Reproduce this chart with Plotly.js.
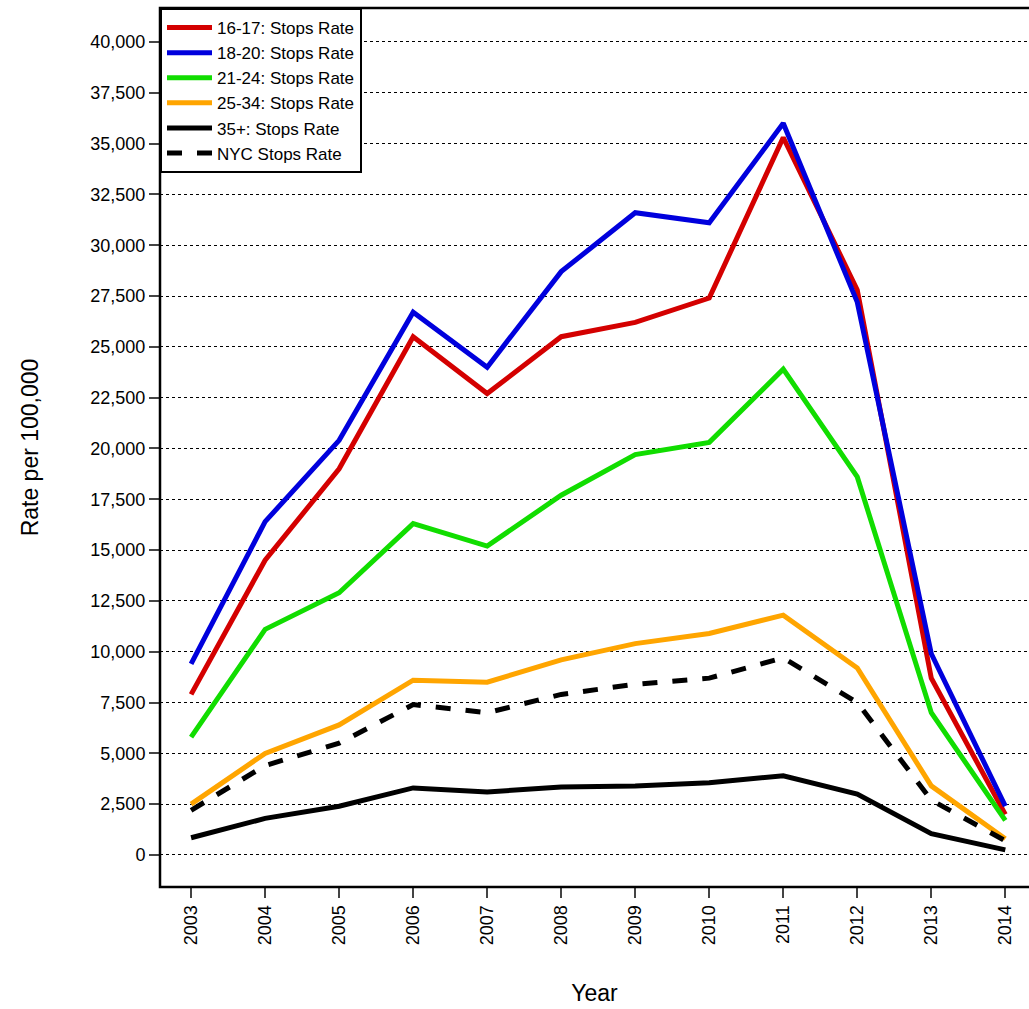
<!DOCTYPE html>
<html>
<head>
<script src="https://cdn.plot.ly/plotly-3.0.1.min.js"></script>
<style>body{margin:0;background:#fff}</style>
</head>
<body>
<div id="chart" style="width:1029px;height:1009px"></div>
<script>
var years = [2003, 2004, 2005, 2006, 2007, 2008, 2009, 2010, 2011, 2012, 2013, 2014];
var rate1617 = [7900, 14500, 19000, 25500, 22700, 25500, 26200, 27400, 35300, 27800, 8700, 2000];
var rate1820 = [9400, 16400, 20400, 26700, 24000, 28700, 31600, 31100, 36000, 27200, 9900, 2400];
var rate2124 = [5800, 11100, 12900, 16300, 15200, 17700, 19700, 20300, 23900, 18600, 7000, 1700];
var rate2534 = [2500, 5000, 6400, 8600, 8500, 9600, 10400, 10900, 11800, 9200, 3400, 800];
var rate35 = [850, 1800, 2400, 3300, 3100, 3350, 3400, 3550, 3900, 3000, 1050, 250];
var rateNYC = [2200, 4400, 5500, 7400, 7000, 7900, 8400, 8700, 9700, 7500, 2700, 700];
var yTicks = [0, 2500, 5000, 7500, 10000, 12500, 15000, 17500, 20000, 22500, 25000, 27500, 30000, 32500, 35000, 37500, 40000];

function line(name, y, color, dash) {
    return { type: 'scatter', mode: 'lines', name: name, x: years, y: y,
        line: { color: color, width: 5, dash: dash || 'solid' } };
}

var data = [
    line('16-17: Stops Rate', rate1617, '#d40000'),
    line('18-20: Stops Rate', rate1820, '#0000dd'),
    line('21-24: Stops Rate', rate2124, '#11dd00'),
    line('25-34: Stops Rate', rate2534, '#ffa500'),
    line('35+: Stops Rate', rate35, '#000000'),
    line('NYC Stops Rate', rateNYC, '#000000', 'dash')
];

var layout = {
    width: 1029, height: 1009,
    margin: { l: 160, r: 0, t: 8, b: 122 },
    font: { family: 'Liberation Sans, Arial, sans-serif', size: 18, color: '#000' },
    showlegend: true,
    legend: { x: 0, y: 1, xanchor: 'left', yanchor: 'top', bordercolor: '#000', borderwidth: 2,
        bgcolor: '#fff', font: { size: 17 }, tracegroupgap: 0, itemwidth: 45 },
    xaxis: {
        range: [2002.58, 2014.32], tickvals: years, ticktext: years.map(String), tickangle: -90,
        ticks: 'outside', ticklen: 10, tickwidth: 1.5, showgrid: false, zeroline: false,
        showline: false, title: { text: 'Year', font: { size: 23 }, standoff: 40 }
    },
    yaxis: {
        range: [-1575, 41670], tickvals: yTicks, ticktext: yTicks.map(function (v) { return v.toLocaleString('en-US'); }),
        ticks: 'outside', ticklen: 10, tickwidth: 1.5, showgrid: true, gridcolor: '#000', gridwidth: 1,
        griddash: 'dot', zeroline: false, showline: false,
        title: { text: 'Rate per 100,000', font: { size: 23 }, standoff: 45 }
    },
    shapes: [{ type: 'rect', xref: 'paper', yref: 'paper', x0: 0, x1: 1.01, y0: 0, y1: 1,
        line: { color: '#000', width: 2.5 } }]
};

Plotly.newPlot('chart', data, layout, { displayModeBar: false });
</script>
</body>
</html>
